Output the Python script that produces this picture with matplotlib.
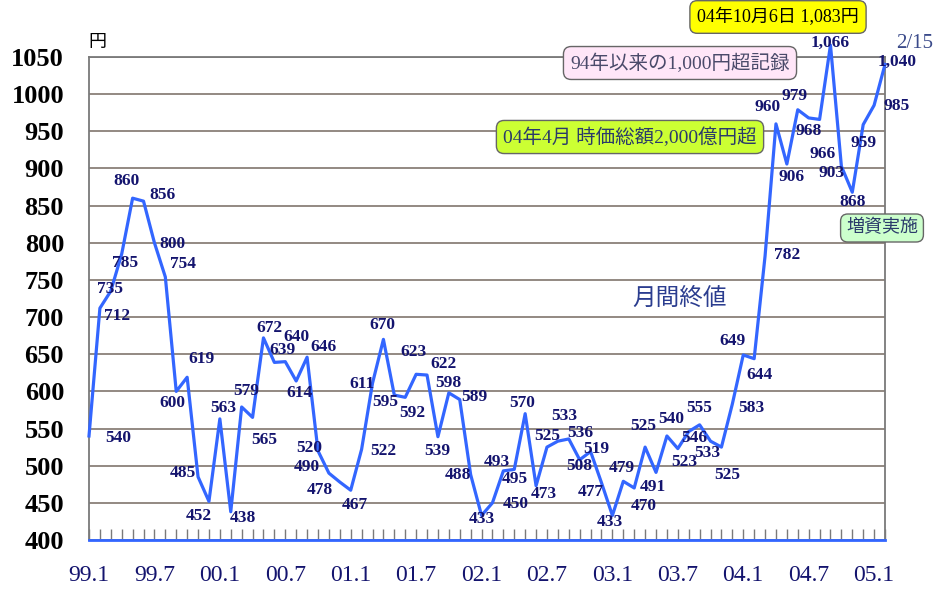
import matplotlib
matplotlib.use("Agg")
import matplotlib.pyplot as plt
from matplotlib.ticker import MultipleLocator, FixedLocator

# monthly closing prices, 99.1 .. 05.2
months = list(range(74))
prices = [540, 712, 735, 785, 860, 856, 800, 754, 600, 619, 485, 452,
          563, 438, 579, 565, 672, 639, 640, 614, 646, 520, 490, 478,
          467, 522, 611, 670, 595, 592, 623, 622, 539, 598, 589, 488,
          433, 450, 493, 495, 570, 473, 525, 533, 536, 508, 519, 477,
          433, 479, 470, 525, 491, 540, 523, 546, 555, 533, 525, 583,
          649, 644, 782, 960, 906, 979, 968, 966, 1066, 903, 868, 959,
          985, 1040]
tick_pos = [0, 6, 12, 18, 24, 30, 36, 42, 48, 54, 60, 66, 72]
tick_labels = ["99.1", "99.7", "00.1", "00.7", "01.1", "01.7", "02.1",
               "02.7", "03.1", "03.7", "04.1", "04.7", "05.1"]

# where each value label sits relative to its point (pixels, y up)
label_offsets = [(29, -2), (17, -8), (-1, 2), (3, -9), (-6, 17), (19, 6),
                 (18, -1), (18, 13), (-4, -12), (14, 18), (-15, 4), (-10, -15),
                 (3, 11), (12, -6), (5, 16), (12, -23), (6, 10), (8, 12),
                 (11, 25), (3, -12), (16, 10), (-9, 3), (-22, 6), (-20, -8),
                 (4, -15), (22, -2), (-11, -1), (-1, 14), (-9, -7), (7, -16),
                 (-3, 22), (16, 11), (-1, -14), (0, 10), (15, 3), (-13, 0),
                 (0, -4), (23, -1), (-6, 9), (1, -10), (-3, 11), (8, -8),
                 (0, 11), (6, 25), (12, 6), (0, -6), (6, 3), (-11, -9),
                 (-3, -7), (-1, 13), (10, -18), (-2, 21), (-3, -15), (4, 17),
                 (6, -13), (6, -6), (0, 17), (-3, -12), (6, -28), (19, -4),
                 (-11, 14), (5, -16), (22, 1), (-8, 17), (5, -13), (-3, 14),
                 (0, -13), (3, -35), (0, 2), (-10, -7), (0, -10), (0, -18),
                 (23, -1), (12, 3)]

LINE = "#3366ff"
NAVY = "#14146e"
GRID = "#8a8078"
JP = ["Liberation Serif", "Noto Sans CJK JP"]

fig = plt.figure(figsize=(9.35, 5.90), dpi=100)
ax = fig.add_axes([89 / 935, 50 / 590, (885 - 89) / 935, (540 - 57) / 590])

ax.plot(months, prices, color=LINE, lw=2.3, clip_on=False, zorder=3)

for m, p, (dx, dy) in zip(months, prices, label_offsets):
    txt = f"{p:,}"
    ax.annotate(txt, (m, p), xytext=(dx, dy), textcoords="offset pixels",
                ha="center", va="center", fontsize=12.5, fontweight="bold",
                family="Liberation Serif", color=NAVY, zorder=4,
                annotation_clip=False)

ax.set_xlim(0, 73)
ax.set_ylim(400, 1050)
ax.yaxis.set_major_locator(MultipleLocator(50))
ax.grid(axis="y", color=GRID, lw=1.3)
ax.set_axisbelow(True)

ax.xaxis.set_major_locator(FixedLocator(tick_pos))
ax.xaxis.set_minor_locator(MultipleLocator(1))
ax.set_xticklabels(tick_labels, fontsize=17, family="Liberation Serif", color=NAVY)
ax.tick_params(axis="x", which="both", direction="in", length=8, width=1,
               color="#7a7a7a", pad=18)
ax.tick_params(axis="y", length=0, pad=18, labelsize=19)
for lab in ax.get_yticklabels():
    lab.set_family("Liberation Serif")
    lab.set_fontweight("bold")

for s in ["left", "right", "top"]:
    ax.spines[s].set_color("#7a7a7a")
    ax.spines[s].set_linewidth(1.3)
ax.spines["bottom"].set_color(LINE)
ax.spines["bottom"].set_linewidth(2)


def px(x, y):
    return x / 935, 1 - y / 590


fig.text(*px(97, 42), "円", family=["Noto Sans CJK JP"], fontsize=13,
         ha="center", va="center", color="black")
fig.text(*px(680, 298), "月間終値", family=["Noto Sans CJK JP"], fontsize=17,
         ha="center", va="center", color="#2b3d8f")
fig.text(*px(915, 43), "2/15", family="Liberation Serif", fontsize=15,
         ha="center", va="center", color="#3a4a8a")

fig.text(*px(778, 17), "04年10月6日 1,083円", family=JP, fontsize=13,
         ha="center", va="center", color="black",
         bbox=dict(boxstyle="round,pad=0.4,rounding_size=0.4", fc="#ffff00",
                   ec="#666666", lw=1))
fig.text(*px(680, 63), "94年以来の1,000円超記録", family=JP, fontsize=14,
         ha="center", va="center", color="#4a4a6a",
         bbox=dict(boxstyle="round,pad=0.35,rounding_size=0.4", fc="#ffe6f8",
                   ec="#666666", lw=1))
fig.text(*px(630, 137), "04年4月 時価総額2,000億円超", family=JP, fontsize=14,
         ha="center", va="center", color="#2a3a6a",
         bbox=dict(boxstyle="round,pad=0.35,rounding_size=0.4", fc="#ccff33",
                   ec="#666666", lw=1))
fig.text(*px(882, 228), "増資実施", family=JP, fontsize=13,
         ha="center", va="center", color="#2a3a6a",
         bbox=dict(boxstyle="round,pad=0.3,rounding_size=0.4", fc="#ccffcc",
                   ec="#666666", lw=1))

fig.savefig("out.png", dpi=100)
